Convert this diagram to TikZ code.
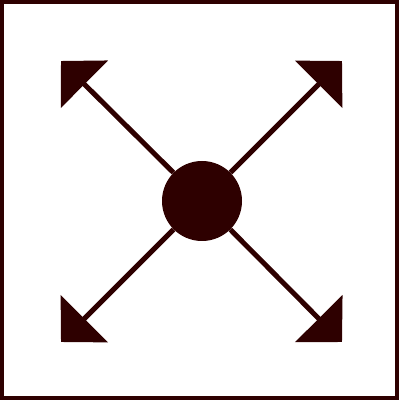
\documentclass[tikz,border=0pt]{standalone}
\usepackage{tikz}
\usetikzlibrary{arrows.meta}
\definecolor{darkmaroon}{RGB}{46,0,0}

\begin{document}
\begin{tikzpicture}[x=1pt, y=1pt,
    spoke/.style={line width=5pt, darkmaroon, -{Triangle[length=33pt,width=66pt]}}]
    % Frame
    \useasboundingbox (0,0) rectangle (399,400);
    \draw[line width=4pt, darkmaroon] (2,2) rectangle (397,398);
    % Hub
    \node[circle, fill=darkmaroon, minimum size=80pt, inner sep=0pt] (hub) at (202,199) {};
    % Corner points
    \coordinate (nw) at (61,339);
    \coordinate (ne) at (342,339);
    \coordinate (sw) at (61,58);
    \coordinate (se) at (342,58);
    % Spokes
    \draw[spoke] (hub) -- (nw);
    \draw[spoke] (hub) -- (ne);
    \draw[spoke] (hub) -- (sw);
    \draw[spoke] (hub) -- (se);
\end{tikzpicture}
\end{document}
